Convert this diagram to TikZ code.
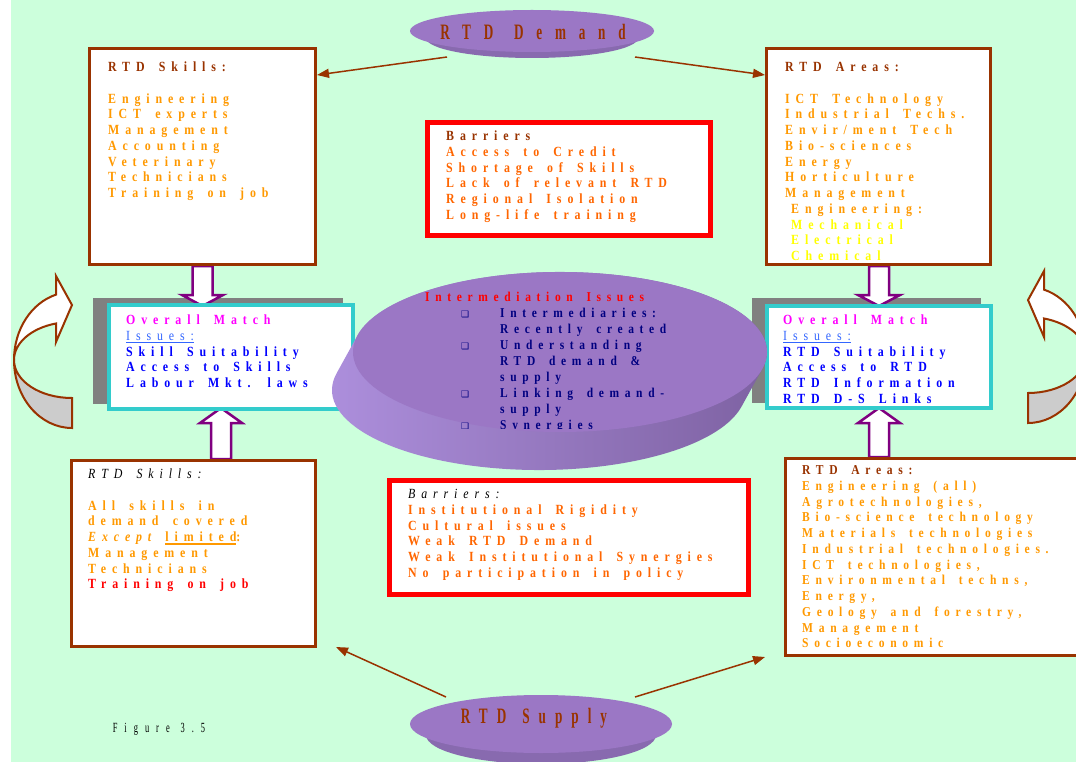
\documentclass[tikz,border=0pt]{standalone}
\usepackage{fontspec}
\setmainfont{Liberation Serif}
\newfontfamily\bxf[LetterSpace=42,FakeStretch=0.85,WordSpace=1.6]{Liberation Serif}
\newfontfamily\dkf[LetterSpace=58,FakeStretch=0.6,WordSpace=1.3]{Liberation Serif}
\newfontfamily\dkfs[LetterSpace=41,FakeStretch=0.6,WordSpace=1.3]{Liberation Serif}
\newfontfamily\fgf[LetterSpace=50,FakeStretch=0.6,WordSpace=1.2]{Liberation Serif}
\newfontfamily\symf{DejaVu Sans}
\usetikzlibrary{arrows.meta,calc}

\definecolor{bgmint}{RGB}{204,255,220}
\definecolor{brn}{RGB}{153,51,0}
\definecolor{org}{RGB}{255,153,0}
\definecolor{redorg}{RGB}{255,102,0}
\definecolor{ylw}{RGB}{255,255,0}
\definecolor{mag}{RGB}{255,0,255}
\definecolor{iss}{RGB}{51,102,255}
\definecolor{blu}{RGB}{0,0,255}
\definecolor{nvy}{RGB}{0,0,128}
\definecolor{cyn}{RGB}{51,204,204}
\definecolor{pur}{RGB}{128,0,128}
\definecolor{face}{RGB}{155,119,197}
\definecolor{side}{RGB}{136,106,175}
\definecolor{sidelt}{RGB}{174,144,222}
\definecolor{sidedk}{RGB}{124,96,160}
\definecolor{shd}{RGB}{128,128,128}
\definecolor{rib}{RGB}{204,204,204}

% thick underline for single words
\newcommand\thickul[1]{\setbox0=\hbox{#1}\rlap{\rule[-3pt]{\wd0}{1.4pt}}\box0}
% square bullet
\newcommand\sqbul{{\symf\fontsize{9}{9}\selectfont ❑}}

\tikzset{
  brbox/.style={draw=brn, line width=3pt, fill=white, inner sep=0pt},
  rdbox/.style={draw=red, line width=4.5pt, fill=white, inner sep=0pt},
  cybox/.style={draw=cyn, line width=4pt, fill=white, inner sep=0pt},
  txt/.style={anchor=north west, inner sep=0pt, align=left,
    font=\bxf\bfseries\fontsize{14}{15.75}\selectfont},
  listtxt/.style={anchor=north west, inner sep=0pt, align=left,
    font=\bxf\bfseries\fontsize{13.5}{16}\selectfont},
  conn/.style={draw=brn, line width=1.5pt, -{Triangle[length=12pt,width=9pt]}},
  blk/.style={draw=pur, line width=2.5pt, fill=white, line join=miter},
  rbn/.style={draw=brn, line width=2pt, line join=miter},
  dlabel/.style={inner sep=0pt, text=brn, font=\dkf\bfseries\fontsize{22}{22}\selectfont},
}

\begin{document}
\begin{tikzpicture}[x=1pt, y=-1pt]
\useasboundingbox (0,0) rectangle (1076,762);
\clip (0,0) rectangle (1076,762);

% background
\fill[white] (0,0) rectangle (1076,762);
\fill[bgmint] (11,0) rectangle (1076,762);

% curved ribbon arrows at the sides
\begin{scope}
  \draw[rbn, fill=rib] (14,360) arc[start angle=180, end angle=90, x radius=58, y radius=68]
    -- (72,398) arc[start angle=90, end angle=180, x radius=58, y radius=38] -- cycle;
  \draw[rbn, fill=white] ($(72,360)+(254:58 and 68)$)
    arc[start angle=254, end angle=180, x radius=58, y radius=68]
    arc[start angle=180, end angle=254, x radius=58, y radius=38]
    -- (56,342) -- (72,305) -- (56,276) -- cycle;
\end{scope}
\begin{scope}[xshift=1100pt, yshift=5pt, xscale=-1]
  \draw[rbn, fill=rib] (14,360) arc[start angle=180, end angle=90, x radius=58, y radius=68]
    -- (72,398) arc[start angle=90, end angle=180, x radius=58, y radius=38] -- cycle;
  \draw[rbn, fill=white] ($(72,360)+(254:58 and 68)$)
    arc[start angle=254, end angle=180, x radius=58, y radius=68]
    arc[start angle=180, end angle=254, x radius=58, y radius=38]
    -- (56,342) -- (72,305) -- (56,276) -- cycle;
\end{scope}

% shadows behind the match boxes
\fill[shd] (93,298) rectangle (343,404);
\fill[shd] (752,298) rectangle (981,403);

% block arrows
\draw[blk] (192.5,266) -- (192.5,295) -- (182,295) -- (202.5,306) -- (223,295) -- (212.5,295) -- (212.5,266) -- cycle;
\draw[blk] (211,459) -- (211,423) -- (200,423) -- (221,408) -- (242,423) -- (231,423) -- (231,459) -- cycle;
\draw[blk] (869,266) -- (869,295) -- (858,295) -- (879,306) -- (900,295) -- (889,295) -- (889,266) -- cycle;
\draw[blk] (869,457) -- (869,423) -- (858,423) -- (879,408) -- (900,423) -- (889,423) -- (889,457) -- cycle;

% boxes
\node[brbox, minimum width=226pt, minimum height=216pt] (skT) at (202.5,156.5) {};
\node[brbox, minimum width=224pt, minimum height=216pt] (arT) at (878.5,156.5) {};
\node[rdbox, minimum width=283pt, minimum height=113pt] (barT) at (569,179) {};
\node[cybox, minimum width=244pt, minimum height=104pt] (ovL) at (231,357) {};
\node[cybox, minimum width=224pt, minimum height=102pt] (ovR) at (879,357) {};
\node[brbox, minimum width=244pt, minimum height=186pt] (skB) at (193.5,553.5) {};
\node[rdbox, minimum width=359pt, minimum height=114pt] (barB) at (569,537.5) {};
\node[brbox, minimum width=305pt, minimum height=197pt] (arB) at (937.5,556.5) {};

% central disk
\shade[left color=sidelt, right color=sidedk] (357.6,335.3) -- (336.6,373.3)
  arc[start angle=192.06, end angle=12.06, x radius=207, y radius=80]
  -- (762.4,368.7)
  arc[start angle=12.06, end angle=-167.94, x radius=207, y radius=80] -- cycle;
\fill[face] (560,352) ellipse [x radius=207, y radius=80];

% box texts
\node[txt, text=org] (skTt) at (108,60.5) {\strut\textcolor{brn}{RTD Skills:}\\[15.75pt]
  Engineering\\ ICT experts\\ Management\\ Accounting\\ Veterinary\\ Technicians\\ Training on job};
\node[txt, text=org] (arTt) at (785,60.5) {\strut\textcolor{brn}{RTD Areas:}\\[15.75pt]
  ICT Technology\\ Industrial Techs.\\ Envir/ment Tech\\ Bio-sciences\\ Energy\\ Horticulture\\ Management\\
  \hspace*{6pt}Engineering:\\ \hspace*{6pt}\textcolor{ylw}{Mechanical}\\ \hspace*{6pt}\textcolor{ylw}{Electrical}\\
  \hspace*{6pt}\textcolor{ylw}{Chemical}};
\node[txt, text=redorg] (barTt) at (446,129.5) {\strut\textcolor{brn}{Barriers}\\
  Access to Credit\\ Shortage of Skills\\ Lack of relevant RTD\\ Regional Isolation\\ Long-life training};
\node[txt, text=blu] (ovLt) at (126,313.5) {\strut\textcolor{mag}{Overall Match}\\
  {\mdseries\color{iss}\thickul{Issues:}}\\ Skill Suitability\\ Access to Skills\\ Labour Mkt. laws};
\node[txt, text=blu] (ovRt) at (783,313.5) {\strut\textcolor{mag}{Overall Match}\\
  {\mdseries\color{iss}\thickul{Issues:}}\\ RTD Suitability\\ Access to RTD\\ RTD Information\\ RTD D-S Links};
\node[txt, text=org] (skBt) at (88,467.5) {\strut{\mdseries\itshape\color{black}RTD Skills:}\\[15.75pt]
  All skills in\\ demand covered\\ {\itshape Except} \thickul{limited}:\\ Management\\ Technicians\\
  \textcolor{red}{Training on job}};
\node[txt, text=redorg] (barBt) at (408,487.5) {\strut{\mdseries\itshape\color{black}Barriers:}\\
  Institutional Rigidity\\ Cultural issues\\ Weak RTD Demand\\ Weak Institutional Synergies\\ No participation in policy};
\node[txt, text=org, font=\bxf\bfseries\fontsize{13.6}{15.75}\selectfont] (arBt) at (802,463.5) {\strut\textcolor{brn}{RTD Areas:}\\
  Engineering (all)\\ Agrotechnologies,\\ Bio-science technology\\ Materials technologies\\
  Industrial technologies.\\ ICT technologies,\\ Environmental techns,\\ Energy,\\
  Geology and forestry,\\ Management\\ Socioeconomic};

% text on the central disk
\node[listtxt, text=red] (midT) at (425,290.5) {\strut Intermediation Issues};
\begin{scope}
  \clip (300,300) rectangle (800,428.5);
  \node[listtxt, text=nvy] (midL) at (461,306.5) {\strut\makebox[39pt][l]{\sqbul}Intermediaries:\\
    \hspace*{39pt}Recently created\\ \makebox[39pt][l]{\sqbul}Understanding\\
    \hspace*{39pt}RTD demand \&\\ \hspace*{39pt}supply\\ \makebox[39pt][l]{\sqbul}Linking demand-\\
    \hspace*{39pt}supply\\ \makebox[39pt][l]{\sqbul}Synergies};
\end{scope}

% demand and supply disks
\fill[side] (410,31) -- (426,38) arc[start angle=180, end angle=0, x radius=106, y radius=20] -- (654,31) -- cycle;
\fill[face] (532,31) ellipse [x radius=122, y radius=21];
\node[dlabel] (dem) at (533,32) {RTD Demand};
\fill[side] (410,724) -- (426,735) arc[start angle=180, end angle=0, x radius=115, y radius=29] -- (672,724) -- cycle;
\fill[face] (541,724) ellipse [x radius=131, y radius=29];
\node[dlabel, font=\dkfs\bfseries\fontsize{22}{22}\selectfont] (sup) at (534,718) {RTD Supply};

% connectors from the disks to the boxes
\coordinate (dL) at (447,57);
\coordinate (dR) at (635,57);
\coordinate (sL) at (446,697);
\coordinate (sR) at (635,697);
\coordinate (yA) at (0,75);
\coordinate (tipSL) at (336,647);
\coordinate (tipSR) at (765,657);
\draw[conn] (dL) -- (skT.east |- yA);
\draw[conn] (dR) -- (arT.west |- yA);
\draw[conn] (sL) -- (tipSL);
\draw[conn] (sR) -- (tipSR);

% caption
\node[inner sep=0pt, font=\fgf\fontsize{14}{14}\selectfont] (fig) at (159,729) {Figure 3.5};
\end{tikzpicture}
\end{document}
